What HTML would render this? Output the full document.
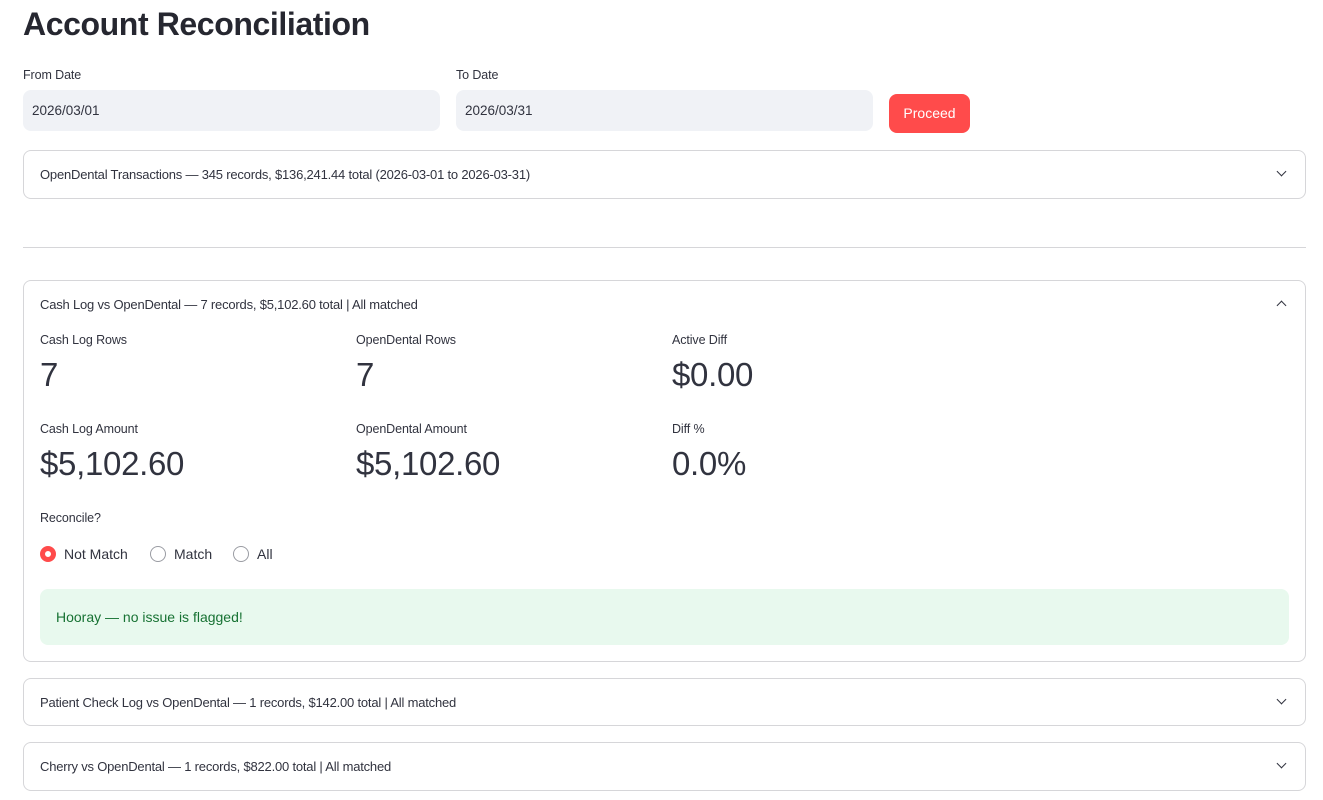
<!DOCTYPE html>
<html><head><meta charset="utf-8"><style>
*{box-sizing:border-box;margin:0;padding:0}
body{width:1323px;height:800px;background:#fff;font-family:"Liberation Sans",sans-serif;color:#31333f;position:relative;overflow:hidden}
.a{position:absolute;white-space:nowrap}
.box{position:absolute;border:1px solid #d6d6d9;border-radius:8px;left:23px;width:1283px}
.sm{font-size:13px;letter-spacing:-0.2px}
.lbl{font-size:12.5px;letter-spacing:-0.1px}
.big{font-size:33px;letter-spacing:-0.3px;color:#31333f}
.chev{position:absolute;right:20px;width:7px;height:7px;border-right:1.6px solid #31333f;border-bottom:1.6px solid #31333f}
.radio{position:absolute;width:16px;height:16px;border-radius:50%;border:1px solid #9a9ca3;background:#fff}
</style></head><body>
<div class="a" style="left:23px;top:6px;font-size:32px;font-weight:bold;letter-spacing:-0.4px;color:#262730">Account Reconciliation</div>
<div class="a lbl" style="left:23px;top:68px">From Date</div>
<div class="a lbl" style="left:456px;top:68px">To Date</div>
<div class="a" style="left:23px;top:90px;width:417px;height:41px;background:#f0f2f6;border-radius:8px"></div>
<div class="a" style="left:32px;top:103px;font-size:13.5px">2026/03/01</div>
<div class="a" style="left:456px;top:90px;width:417px;height:41px;background:#f0f2f6;border-radius:8px"></div>
<div class="a" style="left:465px;top:103px;font-size:13.5px">2026/03/31</div>
<div class="a" style="left:889px;top:94px;width:81px;height:39px;background:#ff4b4b;border-radius:8px;color:#fff;font-size:14px;text-align:center;line-height:39px">Proceed</div>

<div class="box" style="top:150px;height:49px"><div class="a sm" style="left:16px;top:16px">OpenDental Transactions — 345 records, $136,241.44 total (2026-03-01 to 2026-03-31)</div><div class="chev" style="top:17px;transform:rotate(45deg)"></div></div>

<div class="a" style="left:23px;top:247px;width:1283px;height:1px;background:#d6d6d9"></div>

<div class="box" style="top:280px;height:382px">
<div class="a sm" style="left:16px;top:16px">Cash Log vs OpenDental — 7 records, $5,102.60 total | All matched</div>
<div class="chev" style="top:21px;transform:rotate(-135deg)"></div>
<div class="a lbl" style="left:16px;top:52px">Cash Log Rows</div>
<div class="a lbl" style="left:332px;top:52px">OpenDental Rows</div>
<div class="a lbl" style="left:648px;top:52px">Active Diff</div>
<div class="a big" style="left:16px;top:75px">7</div>
<div class="a big" style="left:332px;top:75px">7</div>
<div class="a big" style="left:648px;top:75px">$0.00</div>
<div class="a lbl" style="left:16px;top:141px">Cash Log Amount</div>
<div class="a lbl" style="left:332px;top:141px">OpenDental Amount</div>
<div class="a lbl" style="left:648px;top:141px">Diff %</div>
<div class="a big" style="left:16px;top:164px">$5,102.60</div>
<div class="a big" style="left:332px;top:164px">$5,102.60</div>
<div class="a big" style="left:648px;top:164px">0.0%</div>
<div class="a lbl" style="left:16px;top:230px">Reconcile?</div>
<div class="radio" style="left:16px;top:265px;border:5px solid #ff4b4b"></div>
<div class="a" style="left:40px;top:265px;font-size:14px">Not Match</div>
<div class="radio" style="left:126px;top:265px"></div>
<div class="a" style="left:150px;top:265px;font-size:14px">Match</div>
<div class="radio" style="left:209px;top:265px"></div>
<div class="a" style="left:233px;top:265px;font-size:14px">All</div>
<div class="a" style="left:16px;top:308px;width:1249px;height:56px;background:#e8f9ee;border-radius:8px"></div>
<div class="a" style="left:32px;top:328px;font-size:14px;color:#177233">Hooray — no issue is flagged!</div>
</div>

<div class="box" style="top:678px;height:48px"><div class="a sm" style="left:16px;top:16px">Patient Check Log vs OpenDental — 1 records, $142.00 total | All matched</div><div class="chev" style="top:17px;transform:rotate(45deg)"></div></div>
<div class="box" style="top:742px;height:49px"><div class="a sm" style="left:16px;top:16px">Cherry vs OpenDental — 1 records, $822.00 total | All matched</div><div class="chev" style="top:17px;transform:rotate(45deg)"></div></div>
</body></html>
